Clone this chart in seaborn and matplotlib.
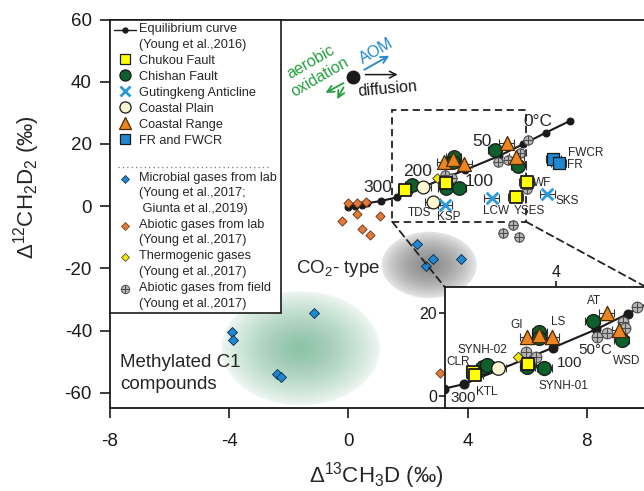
import numpy as np
import matplotlib
matplotlib.use("Agg")
import matplotlib.pyplot as plt
import seaborn as sns
from matplotlib.lines import Line2D
from matplotlib.patches import Ellipse, Rectangle, ConnectionPatch
from matplotlib.path import Path
from matplotlib.legend_handler import HandlerLine2D

# ---------------- data: x = Δ13CH3D (‰), y = Δ12CH2D2 (‰) ----------------
# equilibrium curve (Young et al., 2016)
eq_x = [-0.01, 0.22, 0.44, 0.61, 1.11, 1.62, 3.91, 5.04, 5.86, 6.62, 7.43]
eq_y = [-0.2, 0.1, 0.5, 0.9, 1.7, 2.8, 11.6, 16.1, 19.9, 23.6, 27.4]

# this study, main panel
chukou_x = [1.90, 3.27, 5.98, 5.62]
chukou_y = [5.1, 7.3, 7.8, 2.8]
chishan_x = [2.15, 3.26, 3.71, 3.54, 3.52, 4.92, 5.70]
chishan_y = [6.75, 5.7, 5.9, 15.9, 14.3, 18.0, 12.9]
guting_x = [3.24, 4.81, 6.68]
guting_y = [0.3, 2.5, 3.9]
plain_x = [2.51, 2.83]
plain_y = [6.2, 1.2]
crange_x = [3.21, 3.52, 3.89, 5.31, 5.64]
crange_y = [14.2, 15.3, 13.7, 20.2, 15.7]
fr_x = [6.87, 7.06]
fr_y = [15.3, 13.9]

# literature data
microbial_x = [2.29, 2.83, 2.62, 3.78, -1.15, -3.92, -3.87, -2.41, -2.27]
microbial_y = [-12.2, -17.1, -19.3, -17.1, -34.2, -40.4, -43.1, -54.0, -54.9]
abiolab_x = [-0.01, 0.28, 0.59, 0.30, 1.06, -0.21, 0.44, 0.72, 3.07]
abiolab_y = [0.9, 1.1, 1.4, -2.6, -3.2, -4.8, -7.5, -9.3, -53.5]
thermo_x = [2.98]
thermo_y = [9.1]
field_x = [3.24, 3.48, 5.03, 5.34, 5.76, 6.03, 5.98, 5.53, 5.19, 5.73]
field_y = [10.0, 8.9, 14.2, 14.8, 17.0, 21.2, 5.4, -6.1, -8.6, -9.9]

# inset (zoom of the dashed box)
ins_chukou_x = [1.86, 1.90, 3.28]
ins_chukou_y = [5.8, 5.0, 7.8]
ins_chishan_x = [2.12, 2.20, 3.26, 3.70, 3.57, 3.57, 4.95, 5.70]
ins_chishan_y = [7.0, 7.4, 6.9, 6.6, 15.5, 13.9, 18.1, 13.4]
ins_plain_x = [2.51]
ins_plain_y = [6.6]
ins_crange_x = [3.26, 3.57, 3.89, 5.31, 5.64]
ins_crange_y = [14.2, 14.7, 14.2, 20.0, 15.9]
ins_field_x = [3.22, 3.48, 5.05, 5.31, 5.73, 6.09, 5.79]
ins_field_y = [10.7, 9.3, 14.2, 15.1, 18.0, 21.6, 16.4]
ins_thermo_x = [3.02]
ins_thermo_y = [9.5]

# text labels
temp_txt = ["300", "200", "100", "50", "0°C"]
temp_x = [0.99, 2.32, 4.38, 4.47, 6.36]
temp_y = [6.1, 11.1, 8.0, 20.9, 27.3]
site_txt = ["TDS", "KSP", "LCW", "YSES", "WF", "SKS", "FWCR", "FR"]
site_x = [2.40, 3.37, 4.95, 6.06, 6.51, 7.35, 7.97, 7.61]
site_y = [-2.25, -3.4, -1.6, -1.6, 7.6, 1.6, 17.1, 13.2]
ins_temp_txt = ["300", "100", "50°C"]
ins_temp_x = [1.59, 4.36, 5.01]
ins_temp_y = [-0.6, 8.0, 11.0]
ins_site_txt = ["SYNH-02", "CLR", "KTL", "GI", "LS", "AT", "WSD", "SYNH-01"]
ins_site_x = [2.10, 1.46, 2.20, 2.98, 4.05, 4.98, 5.83, 4.18]
ins_site_y = [11.1, 8.1, 0.95, 17.2, 17.8, 23.0, 8.4, 2.3]

# shaded fields: centre x, centre y, width, height
co2_field = [2.71, -18.9, 3.19, 21.3]
methyl_field = [-1.6, -45.7, 5.3, 36.7]
zoom_box = [1.47, -5.0, 5.96, 30.9]  # x0, y0, x1, y1

# colours
C_YEL = "#ffff00"
C_GRN = "#0d5f2c"
C_XBLUE = "#2a9ad8"
C_CREAM = "#fdf8d2"
C_ORG = "#ea8521"
C_BLUE = "#1e88d2"
C_MIC = "#1e88d2"
C_ABL = "#e07a3a"
C_THM = "#f2e600"
C_FLD = "#b8b8b8"
C_GTXT = "#23a03d"
C_BTXT = "#1f86d0"

# circle with a cross for "abiotic gases from field"
oplus = Path.make_compound_path(
    Path.unit_circle(),
    Path([[-1, 0], [1, 0]], [Path.MOVETO, Path.LINETO]),
    Path([[0, -1], [0, 1]], [Path.MOVETO, Path.LINETO]),
)

sns.set_theme(style="ticks")
plt.rcParams["font.family"] = ["Liberation Sans", "DejaVu Sans"]
plt.rcParams["mathtext.fontset"] = "custom"
plt.rcParams["mathtext.rm"] = "Liberation Sans"
plt.rcParams["mathtext.it"] = "Liberation Sans:italic"
plt.rcParams["mathtext.bf"] = "Liberation Sans:bold"
plt.rcParams["axes.unicode_minus"] = False


def glow(ax, field, color, n=30, alpha=0.035, base=0.0):
    cx, cy, w, h = field
    if base:
        ax.add_patch(Ellipse((cx, cy), w, h, facecolor=color, edgecolor="none",
                             alpha=base, zorder=0.5))
    for k in range(n):
        f = 1 - k / n
        ax.add_patch(Ellipse((cx, cy), w * f, h * f, facecolor=color,
                             edgecolor="none", alpha=alpha, zorder=0.5))


def pts(ax, x, y, marker, s, fc, ec="k", lw=0.9, z=3):
    sns.scatterplot(x=x, y=y, ax=ax, marker=marker, s=s, color=fc,
                    edgecolor=ec, linewidth=lw, zorder=z, legend=False)


def ebar(ax, x, y, xerr):
    ax.errorbar(x, y, xerr=xerr, fmt="none", ecolor="#333333",
                elinewidth=0.8, capsize=3, capthick=0.8, zorder=2.5)


def draw_curve(ax, ms):
    sns.lineplot(x=eq_x, y=eq_y, ax=ax, sort=False, estimator=None, color="k",
                 lw=1.5, marker="o", ms=ms, mec="k", zorder=2)


fig = plt.figure(figsize=(6.44, 4.91), dpi=100)
ax = fig.add_axes([110 / 644, 1 - 408.3 / 491, 536.4 / 644, 388.75 / 491])

# shaded fields
glow(ax, methyl_field, "#4fa97a", n=30, alpha=0.027, base=0.07)
glow(ax, co2_field, "#6f6f6f", n=25, alpha=0.05, base=0.14)

# dashed zoom box
bx0, by0, bx1, by1 = zoom_box
ax.add_patch(Rectangle((bx0, by0), bx1 - bx0, by1 - by0, fill=False,
                       edgecolor="#222222", lw=1.3, ls=(0, (4, 2.5)), zorder=1.5))

draw_curve(ax, 5)

# error bars
for xs, ys in [(chukou_x, chukou_y), (chishan_x, chishan_y), (guting_x, guting_y),
               (plain_x, plain_y), (crange_x, crange_y), (fr_x, fr_y)]:
    ebar(ax, xs, ys, 0.25)

pts(ax, microbial_x, microbial_y, "D", 26, C_MIC, ec="#0a2a44", lw=0.6)
pts(ax, abiolab_x, abiolab_y, "D", 22, C_ABL, ec="#6b2e0a", lw=0.6)
pts(ax, field_x, field_y, oplus, 45, C_FLD, ec="#4d4d4d", lw=0.8)
pts(ax, thermo_x, thermo_y, "D", 24, C_THM, ec="#333333", lw=0.6)
pts(ax, chishan_x, chishan_y, "o", 95, C_GRN)
pts(ax, crange_x, crange_y, "^", 100, C_ORG, ec="#4a2a00")
pts(ax, chukou_x, chukou_y, "s", 80, C_YEL, lw=1.3)
pts(ax, plain_x, plain_y, "o", 85, C_CREAM)
pts(ax, fr_x, fr_y, "s", 70, C_BLUE)
sns.scatterplot(x=guting_x, y=guting_y, ax=ax, marker="x", s=70, color=C_XBLUE,
                linewidth=2, zorder=3, legend=False)

for t, x, y in zip(temp_txt, temp_x, temp_y):
    ax.text(x, y, t, fontsize=12.5, ha="center", va="center", zorder=4)
for t, x, y in zip(site_txt, site_x, site_y):
    ax.text(x, y, t, fontsize=8.5, ha="center", va="center", zorder=4)

# field names
ax.text(-1.76, -21.4, "CO$_2$- type", fontsize=13.5, va="baseline", zorder=4)
ax.text(-7.67, -51.7, "Methylated C1", fontsize=13.5, va="baseline", zorder=4)
ax.text(-7.67, -58.8, "compounds", fontsize=13.5, va="baseline", zorder=4)

# process arrows
src = (0.16, 41.6)
ax.plot([src[0]], [src[1]], "o", color="k", ms=9, zorder=4)
ax.annotate("", xy=(1.45, 48.8), xytext=(0.45, 43.4),
            arrowprops=dict(arrowstyle="->", color=C_BTXT, lw=1.3))
ax.annotate("", xy=(1.75, 42.3), xytext=(0.48, 42.3),
            arrowprops=dict(arrowstyle="->", color="k", lw=1.1))
ax.annotate("", xy=(-0.85, 36.0), xytext=(-0.08, 40.0),
            arrowprops=dict(arrowstyle="->", color=C_GTXT, lw=1.3))
ax.annotate("", xy=(-0.42, 33.6), xytext=(-0.12, 39.0),
            arrowprops=dict(arrowstyle="->", color=C_GTXT, lw=1.3))
ax.text(0.93, 49.9, "AOM", color=C_BTXT, fontsize=11.5, rotation=30,
        ha="center", va="center")
ax.text(1.30, 37.6, "diffusion", color="k", fontsize=11.5, rotation=5,
        ha="center", va="center")
ax.text(-1.25, 46.3, "aerobic", color=C_GTXT, fontsize=11.5, rotation=30,
        ha="center", va="center")
ax.text(-0.95, 41.6, "oxidation", color=C_GTXT, fontsize=11.5, rotation=30,
        ha="center", va="center")

ax.set_xlim(-8, 10)
ax.set_ylim(-65, 60)
ax.set_xticks([-8, -4, 0, 4, 8])
ax.set_yticks([-60, -40, -20, 0, 20, 40, 60])
ax.tick_params(axis="both", direction="out", length=7, width=1.2, labelsize=13.5,
               colors="k")
ax.tick_params(axis="x", pad=11)
ax.tick_params(axis="y", pad=6)
for side in ["left", "bottom", "top"]:
    ax.spines[side].set_linewidth(1.3)
    ax.spines[side].set_color("k")
ax.spines["right"].set_visible(False)
ax.set_xlabel("Δ$^{13}$CH$_3$D (‰)", fontsize=16)
ax.set_ylabel("Δ$^{12}$CH$_2$D$_2$ (‰)", fontsize=16)
ax.xaxis.set_label_coords(0.496, -0.132)
ax.yaxis.set_label_coords(-0.127, 0.5705)


# legend: marker sits on the first line of multi-line labels
class FirstLine(HandlerLine2D):
    def __init__(self, lift=0.0, **kw):
        super().__init__(**kw)
        self.lift = lift

    def create_artists(self, *args, **kwargs):
        arts = super().create_artists(*args, **kwargs)
        for a in arts:
            a.set_ydata(np.asarray(a.get_ydata(), dtype=float) + self.lift)
        return arts


leg_handles = [
    Line2D([], [], color="k", lw=1, marker="o", ms=3.5),
    Line2D([], [], ls="none", marker="s", ms=7, mfc=C_YEL, mec="k", mew=0.9),
    Line2D([], [], ls="none", marker="o", ms=8, mfc=C_GRN, mec="k", mew=0.9),
    Line2D([], [], ls="none", marker="x", ms=6.5, mec=C_XBLUE, mew=2),
    Line2D([], [], ls="none", marker="o", ms=8, mfc=C_CREAM, mec="k", mew=0.9),
    Line2D([], [], ls="none", marker="^", ms=8, mfc=C_ORG, mec="#4a2a00", mew=0.9),
    Line2D([], [], ls="none", marker="s", ms=7, mfc=C_BLUE, mec="k", mew=0.9),
    Line2D([], [], ls="none"),
    Line2D([], [], ls="none", marker="D", ms=4, mfc=C_MIC, mec="#0a2a44", mew=0.5),
    Line2D([], [], ls="none", marker="D", ms=4, mfc=C_ABL, mec="#6b2e0a", mew=0.5),
    Line2D([], [], ls="none", marker="D", ms=4, mfc=C_THM, mec="#333333", mew=0.5),
    Line2D([], [], ls="none", marker=oplus, ms=6, mfc=C_FLD, mec="#4d4d4d", mew=0.7),
]
leg_labels = [
    "Equilibrium curve\n(Young et al.,2016)",
    "Chukou Fault",
    "Chishan Fault",
    "Gutingkeng Anticline",
    "Coastal Plain",
    "Coastal Range",
    "FR and FWCR",
    " ",
    "Microbial gases from lab\n(Young et al.,2017;\n Giunta et al.,2019)",
    "Abiotic gases from lab\n(Young et al.,2017)",
    "Thermogenic gases\n(Young et al.,2017)",
    "Abiotic gases from field\n(Young et al.,2017)",
]
LINE_PT = 10.0
hmap = {h: FirstLine(lift=(lab.count("\n")) * LINE_PT / 2)
        for h, lab in zip(leg_handles, leg_labels)}
leg = ax.legend(leg_handles, leg_labels, handler_map=hmap, loc="upper left",
                bbox_to_anchor=(0, 1), borderaxespad=0, frameon=True,
                fancybox=False, edgecolor="k", fontsize=9.2, handlelength=1.7,
                handletextpad=0.3, borderpad=0.3, labelspacing=0.31)
leg.get_frame().set_linewidth(1.2)
leg.get_frame().set_alpha(1)
leg.set_zorder(10)
for t in leg.get_texts():
    t.set_linespacing(1.4)
leg.get_texts()[7].set_fontsize(13)

# inset
axins = fig.add_axes([445 / 644, 1 - 408.3 / 491, 201.7 / 644, 120.9 / 491])
axins.set_zorder(5)
axins.set_facecolor("white")
draw_curve(axins, 6.5)
for xs, ys in [(ins_chukou_x, ins_chukou_y), (ins_chishan_x, ins_chishan_y),
               (ins_plain_x, ins_plain_y), (ins_crange_x, ins_crange_y)]:
    ebar(axins, xs, ys, 0.2)
pts(axins, ins_field_x, ins_field_y, oplus, 60, C_FLD, ec="#4d4d4d", lw=0.8)
pts(axins, ins_thermo_x, ins_thermo_y, "D", 28, C_THM, ec="#333333", lw=0.6)
pts(axins, ins_chishan_x, ins_chishan_y, "o", 100, C_GRN)
pts(axins, ins_crange_x, ins_crange_y, "^", 105, C_ORG, ec="#4a2a00")
pts(axins, ins_chukou_x, ins_chukou_y, "s", 85, C_YEL, lw=1.3)
pts(axins, ins_plain_x, ins_plain_y, "o", 95, C_CREAM)
for t, x, y in zip(ins_temp_txt, ins_temp_x, ins_temp_y):
    axins.text(x, y, t, fontsize=11, ha="center", va="center", zorder=4)
for t, x, y in zip(ins_site_txt, ins_site_x, ins_site_y):
    axins.text(x, y, t, fontsize=8.5, ha="center", va="center", zorder=4)
axins.set_xlim(1.124, 6.35)
axins.set_ylim(-3.09, 26.3)
axins.set_xticks([4])
axins.set_yticks([0, 20])
axins.xaxis.tick_top()
axins.tick_params(axis="both", direction="out", length=4, width=1.2,
                  labelsize=11.5, pad=1.5, colors="k")
for side in axins.spines.values():
    side.set_linewidth(1.3)
    side.set_color("k")

# connectors from the dashed box to the inset
for (xa, ya), (xb, yb) in [((bx0, by0), (0, 1)), ((bx1, by0), (1, 1))]:
    con = ConnectionPatch(xyA=(xa, ya), coordsA=ax.transData, xyB=(xb, yb),
                          coordsB=axins.transAxes, color="#222222", lw=1.3,
                          ls=(0, (4, 2.5)))
    fig.add_artist(con)

# dotted separator inside legend
fig.canvas.draw()
r = fig.canvas.get_renderer()
fb = leg.get_frame().get_window_extent(r)
tb = leg.get_texts()[8].get_window_extent(r)
ysep = tb.y1 + 5
inv = fig.transFigure.inverted()
(x0f, yf), (x1f, _) = inv.transform([(fb.x0 + 8, ysep), (fb.x1 - 12, ysep)])
fig.add_artist(Line2D([x0f, x1f], [yf, yf], transform=fig.transFigure,
                      color="#777777", lw=0.9, ls=(0, (1, 2.5)), zorder=20))

fig.savefig("out.png", dpi=100)
